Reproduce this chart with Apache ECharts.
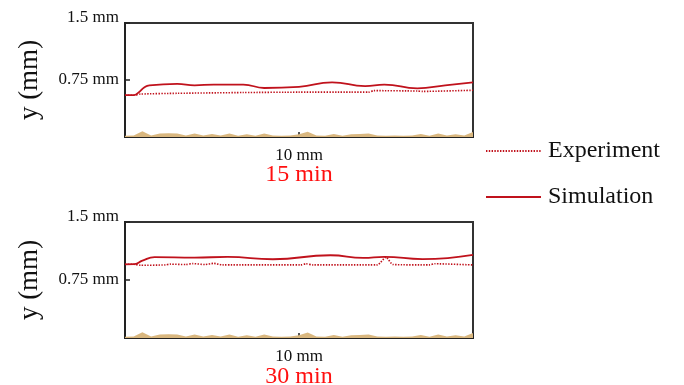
<!DOCTYPE html>
<html>
<head>
<meta charset="utf-8">
<style>
  html, body { margin: 0; padding: 0; background: #ffffff; }
  #chart { width: 684px; height: 385px; }
</style>
<script src="https://cdn.jsdelivr.net/npm/echarts@6/dist/echarts.min.js"></script>
</head>
<body>
<div id="chart"></div>
<script>
// Profile of the deposited layer along the substrate (x in mm, y in mm)
const panelTitles = ['15 min', '30 min'];
const xTickLabel = '10 mm';
const yTickLabels = { 0.75: '0.75 mm', 1.5: '1.5 mm' };

// 15 min – simulated surface
const sim15X = [0, 0.5, 0.8, 1.1, 1.4, 3.0, 4.0, 5.1, 6.8, 8.0, 10.0, 11.9, 13.8, 14.9, 16.8, 18.4, 20];
const sim15Y = [0.55, 0.55, 0.59, 0.65, 0.68, 0.70, 0.68, 0.69, 0.69, 0.645, 0.66, 0.72, 0.67, 0.69, 0.64, 0.68, 0.72];
// 15 min – measured surface
const exp15X = [0, 0.5, 0.9, 3.0, 6.8, 10.0, 13.0, 14.0, 14.3, 16.8, 17.1, 20];
const exp15Y = [0.55, 0.55, 0.565, 0.575, 0.585, 0.59, 0.59, 0.59, 0.61, 0.605, 0.60, 0.615];

// 30 min – simulated surface
const sim30X = [0, 0.55, 1.0, 1.7, 4.0, 5.9, 8.5, 11.8, 13.7, 14.9, 17.1, 20];
const sim30Y = [0.953, 0.955, 1.0, 1.045, 1.04, 1.048, 1.018, 1.07, 1.035, 1.05, 1.02, 1.075];
// 30 min – measured surface
const exp30X = [0, 0.5, 0.9, 2.3, 2.6, 3.5, 3.9, 4.6, 5.1, 5.6, 10.1, 10.4, 10.8, 14.5, 15.0, 15.4, 17.5, 17.8, 20];
const exp30Y = [0.953, 0.953, 0.94, 0.945, 0.955, 0.95, 0.962, 0.95, 0.965, 0.945, 0.945, 0.96, 0.945, 0.945, 1.045, 0.95, 0.945, 0.96, 0.945];

// Substrate roughness (same substrate in both runs), sampled every 0.5 mm
const roughX = [0,0.5,1,1.5,2,2.5,3,3.5,4,4.5,5,5.5,6,6.5,7,7.5,8,8.5,9,9.5,10,10.5,11,11.5,12,12.5,13,13.5,14,14.5,15,15.5,16,16.5,17,17.5,18,18.5,19,19.5,20];
const roughY = [0.015,0.02,0.075,0.02,0.045,0.05,0.045,0.02,0.045,0.02,0.04,0.02,0.045,0.015,0.035,0.015,0.045,0.02,0.015,0.02,0.035,0.07,0.02,0.015,0.04,0.015,0.035,0.04,0.045,0.02,0.015,0.02,0.015,0.02,0.04,0.015,0.045,0.02,0.035,0.02,0.065];

const zip = (xs, ys) => xs.map((x, i) => [x, ys[i]]);

const SERIF = '"Liberation Serif", "Times New Roman", serif';
const RED = '#c0121c';
const TAN = '#d9b77f';
const INK = '#111111';

const grids = [
  { left: 125, top: 23, width: 348, height: 114 },
  { left: 125, top: 222, width: 348, height: 116 }
];

function xAxisFor(g) {
  return {
    type: 'value', gridIndex: g, min: 0, max: 20, interval: 10,
    axisLine: { show: true, lineStyle: { color: '#222', width: 2 } },
    axisTick: { show: true, inside: true, length: 5, lineStyle: { color: '#222', width: 1.5 } },
    splitLine: { show: false },
    axisLabel: {
      margin: 10, fontFamily: SERIF, fontSize: 17, color: INK,
      formatter: v => (v === 10 ? xTickLabel : '')
    }
  };
}

function yAxisFor(g) {
  return {
    type: 'value', gridIndex: g, min: 0, max: 1.5, interval: 0.75,
    name: 'y (mm)', nameLocation: 'middle', nameGap: 82, nameRotate: 90,
    nameTextStyle: { fontFamily: SERIF, fontSize: 27, color: INK },
    axisLine: { show: true, lineStyle: { color: '#222', width: 2 } },
    axisTick: { show: true, inside: true, length: 5, lineStyle: { color: '#222', width: 1.5 } },
    splitLine: { show: false },
    axisLabel: {
      margin: 6, fontFamily: SERIF, fontSize: 17, color: INK,
      formatter: v => (v === 1.5 ? '{top|' + yTickLabels[1.5] + '}' : (v === 0.75 ? '{mid|' + yTickLabels[0.75] + '}' : '')),
      rich: {
        top: { fontFamily: SERIF, fontSize: 17, color: INK, padding: [0, 0, 10, 0] },
        mid: { fontFamily: SERIF, fontSize: 17, color: INK, padding: [0, 0, 1, 0] }
      }
    }
  };
}

function panelSeries(g, simX, simY, expX, expY) {
  return [
    {
      type: 'line', xAxisIndex: g, yAxisIndex: g,
      data: zip(roughX, roughY), showSymbol: false, symbol: 'none',
      lineStyle: { width: 0 }, areaStyle: { color: TAN, opacity: 1 },
      silent: true, z: 1
    },
    {
      name: 'Experiment', type: 'line', xAxisIndex: g, yAxisIndex: g,
      data: zip(expX, expY), showSymbol: false, symbol: 'none', smooth: 0.2,
      lineStyle: { color: RED, width: 1.6, type: [1.4, 1.4] },
      itemStyle: { color: RED }, z: 3
    },
    {
      name: 'Simulation', type: 'line', xAxisIndex: g, yAxisIndex: g,
      data: zip(simX, simY), showSymbol: false, symbol: 'none', smooth: 0.5,
      lineStyle: { color: RED, width: 1.8, type: 'solid' },
      itemStyle: { color: RED }, z: 4
    }
  ];
}

const chart = echarts.init(document.getElementById('chart'), null, { renderer: 'canvas' });
chart.setOption({
  animation: false,
  backgroundColor: '#ffffff',
  grid: grids.map(g => Object.assign({ show: true, borderColor: '#333', borderWidth: 2, backgroundColor: 'transparent' }, g)),
  xAxis: [xAxisFor(0), xAxisFor(1)],
  yAxis: [yAxisFor(0), yAxisFor(1)],
  legend: {
    data: ['Experiment', 'Simulation'],
    orient: 'vertical', left: 480, top: 134,
    itemWidth: 55, itemHeight: 14, itemGap: 22,
    itemStyle: { opacity: 0 },
    textStyle: { fontFamily: SERIF, fontSize: 24, color: INK, padding: [0, 0, 0, 2] }
  },
  graphic: [
    { type: 'text', x: 299, y: 175, style: { text: panelTitles[0], fill: '#ff1010', font: '24px ' + SERIF, align: 'center', verticalAlign: 'middle' } },
    { type: 'text', x: 299, y: 377, style: { text: panelTitles[1], fill: '#ff1010', font: '24px ' + SERIF, align: 'center', verticalAlign: 'middle' } }
  ],
  series: [
    ...panelSeries(0, sim15X, sim15Y, exp15X, exp15Y),
    ...panelSeries(1, sim30X, sim30Y, exp30X, exp30Y)
  ]
});
</script>
</body>
</html>
